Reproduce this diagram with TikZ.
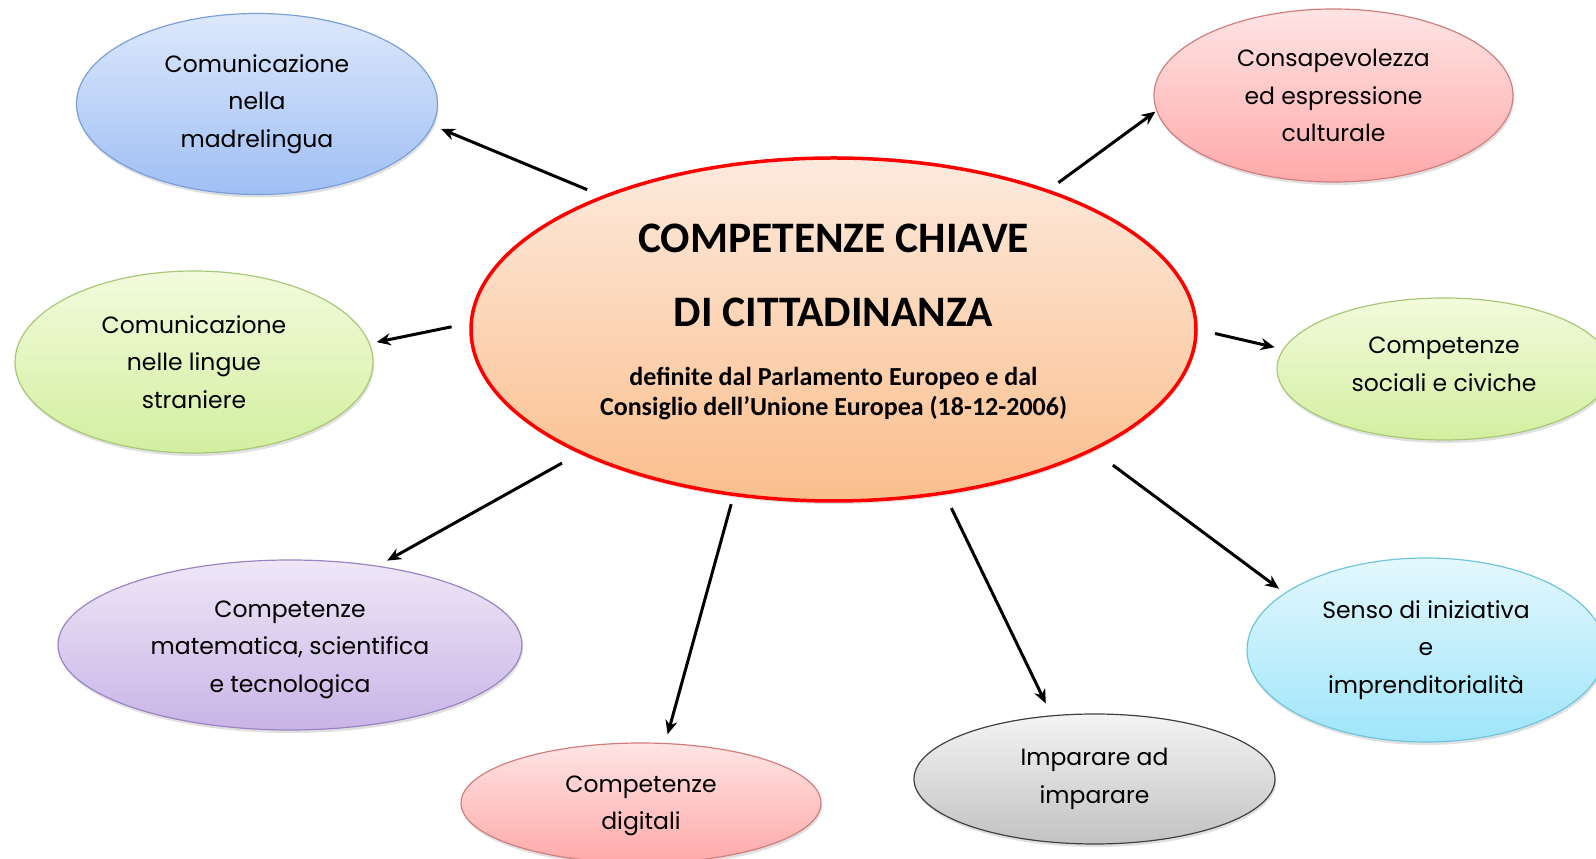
\documentclass[tikz,border=0pt]{standalone}
\usepackage{fontspec}
\setmainfont{Poppins}
\newfontfamily\calibri{Carlito}
\usetikzlibrary{shapes.geometric,arrows.meta,shadows}

\definecolor{ctrtop}{HTML}{FDEADD}
\definecolor{ctrbot}{HTML}{FBBE8C}
\definecolor{madtop}{HTML}{DDE8FC}
\definecolor{madbot}{HTML}{9FBFF4}
\definecolor{madline}{HTML}{7A9FDA}
\definecolor{pinktop}{HTML}{FFE4E4}
\definecolor{pinkbot}{HTML}{FFA9A9}
\definecolor{pinkline}{HTML}{D27E7E}
\definecolor{greentop}{HTML}{F2FBDC}
\definecolor{greenbot}{HTML}{D3EFA0}
\definecolor{greenline}{HTML}{A9C877}
\definecolor{lilactop}{HTML}{EEE7F7}
\definecolor{lilacbot}{HTML}{C9B4E6}
\definecolor{lilacline}{HTML}{9C84C4}
\definecolor{greytop}{HTML}{F4F4F4}
\definecolor{greybot}{HTML}{C2C2C2}
\definecolor{cyantop}{HTML}{E4F8FE}
\definecolor{cyanbot}{HTML}{9FE5FA}
\definecolor{cyanline}{HTML}{70C4DE}

\newcommand{\subline}[1]{{\fontsize{26}{30}\selectfont #1}}

\begin{document}
\begin{tikzpicture}[x=1pt,y=1pt,
	bubble/.style={ellipse,draw,line width=1.2pt,inner sep=0pt,align=center,
		font=\fontsize{23.5}{37.5}\selectfont,
		drop shadow={shadow xshift=1pt,shadow yshift=-3pt,fill=black!40,opacity=.3}},
	link/.style={line width=3pt,-{Stealth[length=14pt,width=12pt]}}]
	\useasboundingbox (0,0) rectangle (1596,859);
	
	\node[ellipse,draw=red,line width=3.5pt,top color=ctrtop,bottom color=ctrbot,
		minimum width=725pt,minimum height=343pt,inner sep=0pt,align=center,text depth=20pt,
		font=\calibri\bfseries\fontsize{43.5}{74}\selectfont,
		drop shadow={shadow xshift=1pt,shadow yshift=-3pt,fill=black!40,opacity=.3}] (ctr) at (833.5,529.5)
		{COMPETENZE CHIAVE\\DI CITTADINANZA\\[-15pt]
		\subline{definite dal Parlamento Europeo e dal}\\[-44pt]\subline{Consiglio dell’Unione Europea (18-12-2006)}};
	
	\node[bubble,draw=madline,top color=madtop,bottom color=madbot,minimum width=361pt,minimum height=181pt] (mad) at (257,755) {Comunicazione\\nella\\madrelingua};
	\node[bubble,draw=greenline,top color=greentop,bottom color=greenbot,minimum width=358pt,minimum height=182pt] (str) at (194,497) {Comunicazione\\nelle lingue\\straniere};
	\node[bubble,draw=lilacline,top color=lilactop,bottom color=lilacbot,minimum width=464pt,minimum height=170pt,text height=101pt] (mat) at (290,214) {Competenze\\matematica, scientifica\\e tecnologica};
	\node[bubble,draw=pinkline,top color=pinktop,bottom color=pinkbot,minimum width=360pt,minimum height=120pt,text height=60pt] (dig) at (641,56) {Competenze\\digitali};
	\node[bubble,draw=black!75,top color=greytop,bottom color=greybot,minimum width=361pt,minimum height=130pt] (imp) at (1094.5,80) {Imparare ad\\imparare};
	\node[bubble,draw=cyanline,top color=cyantop,bottom color=cyanbot,minimum width=358pt,minimum height=184pt] (sen) at (1426,209) {Senso di iniziativa\\e\\imprenditorialità};
	\node[bubble,draw=greenline,top color=greentop,bottom color=greenbot,minimum width=334pt,minimum height=142pt,text depth=10pt] (soc) at (1444,490) {Competenze\\sociali e civiche};
	\node[bubble,draw=pinkline,top color=pinktop,bottom color=pinkbot,minimum width=359pt,minimum height=173pt] (cons) at (1333.5,763.5) {Consapevolezza\\ed espressione\\culturale};
	
	\draw[link,shorten <=16pt,shorten >=8.9pt] (ctr.150.1) -- (mad.-7.4);
	\draw[link,shorten <=18.3pt,shorten >=6.9pt] (ctr.179.5) -- (str.6.9);
	\draw[link,shorten <=19.7pt,shorten >=10.5pt] (ctr.206.4) -- (mat.42.6);
	\draw[link,shorten <=8.4pt,shorten >=8.9pt] (ctr.239.8) -- (dig.68.4);
	\draw[link,shorten <=15.2pt,shorten >=13.2pt] (ctr.-56.9) -- (imp.124);
	\draw[link,shorten <=24.1pt,shorten >=7pt] (ctr.-25.7) -- (sen.158.6);
	\draw[link,shorten <=17.7pt,shorten >=8.5pt] (ctr.0.55) -- (soc.173.8);
	\draw[link,shorten <=12pt,shorten >=1pt] (ctr.33.7) -- (cons.185.8);
\end{tikzpicture}
\end{document}
